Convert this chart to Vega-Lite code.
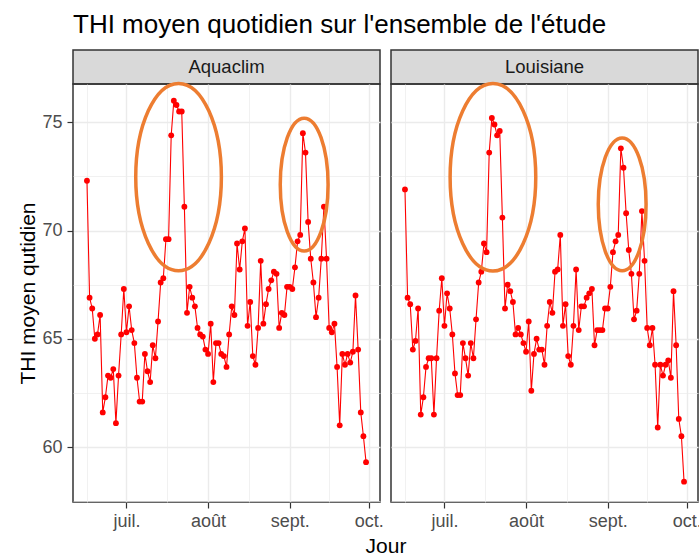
{
  "$schema": "https://vega.github.io/schema/vega-lite/v6.json",
  "background": "white",
  "padding": {"left": 17, "top": 12, "right": 0, "bottom": 0},
  "title": {"text": "THI moyen quotidien sur l'ensemble de l'étude", "anchor": "start", "frame": "group", "fontSize": 26, "fontWeight": "normal", "color": "#000000", "font": "Liberation Sans", "offset": 11, "dx": 0},
  "config": {"font": "Liberation Sans", "view": {"stroke": "#333333", "strokeWidth": 1.5}},
  "datasets": {
    "thi": [
{"site":"Aquaclim","date":"2019-06-16","thi":72.3},{"site":"Aquaclim","date":"2019-06-17","thi":66.9},{"site":"Aquaclim","date":"2019-06-18","thi":66.4},{"site":"Aquaclim","date":"2019-06-19","thi":65.0},{"site":"Aquaclim","date":"2019-06-20","thi":65.2},{"site":"Aquaclim","date":"2019-06-21","thi":66.1},{"site":"Aquaclim","date":"2019-06-22","thi":61.6},{"site":"Aquaclim","date":"2019-06-23","thi":62.3},{"site":"Aquaclim","date":"2019-06-24","thi":63.3},{"site":"Aquaclim","date":"2019-06-25","thi":63.2},{"site":"Aquaclim","date":"2019-06-26","thi":63.6},{"site":"Aquaclim","date":"2019-06-27","thi":61.1},{"site":"Aquaclim","date":"2019-06-28","thi":63.3},{"site":"Aquaclim","date":"2019-06-29","thi":65.2},{"site":"Aquaclim","date":"2019-06-30","thi":67.3},
{"site":"Aquaclim","date":"2019-07-01","thi":65.3},{"site":"Aquaclim","date":"2019-07-02","thi":66.5},{"site":"Aquaclim","date":"2019-07-03","thi":65.4},{"site":"Aquaclim","date":"2019-07-04","thi":64.8},{"site":"Aquaclim","date":"2019-07-05","thi":63.2},{"site":"Aquaclim","date":"2019-07-06","thi":62.1},{"site":"Aquaclim","date":"2019-07-07","thi":62.1},{"site":"Aquaclim","date":"2019-07-08","thi":64.3},{"site":"Aquaclim","date":"2019-07-09","thi":63.5},{"site":"Aquaclim","date":"2019-07-10","thi":63.0},{"site":"Aquaclim","date":"2019-07-11","thi":64.7},{"site":"Aquaclim","date":"2019-07-12","thi":64.1},{"site":"Aquaclim","date":"2019-07-13","thi":65.8},{"site":"Aquaclim","date":"2019-07-14","thi":67.6},{"site":"Aquaclim","date":"2019-07-15","thi":67.8},{"site":"Aquaclim","date":"2019-07-16","thi":69.6},{"site":"Aquaclim","date":"2019-07-17","thi":69.6},{"site":"Aquaclim","date":"2019-07-18","thi":74.4},{"site":"Aquaclim","date":"2019-07-19","thi":76.0},{"site":"Aquaclim","date":"2019-07-20","thi":75.8},{"site":"Aquaclim","date":"2019-07-21","thi":75.5},{"site":"Aquaclim","date":"2019-07-22","thi":75.5},{"site":"Aquaclim","date":"2019-07-23","thi":71.1},{"site":"Aquaclim","date":"2019-07-24","thi":66.2},{"site":"Aquaclim","date":"2019-07-25","thi":67.4},{"site":"Aquaclim","date":"2019-07-26","thi":66.9},{"site":"Aquaclim","date":"2019-07-27","thi":66.5},{"site":"Aquaclim","date":"2019-07-28","thi":65.5},{"site":"Aquaclim","date":"2019-07-29","thi":65.2},{"site":"Aquaclim","date":"2019-07-30","thi":65.1},{"site":"Aquaclim","date":"2019-07-31","thi":64.5},
{"site":"Aquaclim","date":"2019-08-01","thi":64.3},{"site":"Aquaclim","date":"2019-08-02","thi":65.7},{"site":"Aquaclim","date":"2019-08-03","thi":63.0},{"site":"Aquaclim","date":"2019-08-04","thi":64.8},{"site":"Aquaclim","date":"2019-08-05","thi":64.8},{"site":"Aquaclim","date":"2019-08-06","thi":64.3},{"site":"Aquaclim","date":"2019-08-07","thi":64.2},{"site":"Aquaclim","date":"2019-08-08","thi":63.7},{"site":"Aquaclim","date":"2019-08-09","thi":65.2},{"site":"Aquaclim","date":"2019-08-10","thi":66.5},{"site":"Aquaclim","date":"2019-08-11","thi":66.1},{"site":"Aquaclim","date":"2019-08-12","thi":69.4},{"site":"Aquaclim","date":"2019-08-13","thi":68.2},{"site":"Aquaclim","date":"2019-08-14","thi":69.5},{"site":"Aquaclim","date":"2019-08-15","thi":70.1},{"site":"Aquaclim","date":"2019-08-16","thi":65.6},{"site":"Aquaclim","date":"2019-08-17","thi":66.7},{"site":"Aquaclim","date":"2019-08-18","thi":64.2},{"site":"Aquaclim","date":"2019-08-19","thi":63.8},{"site":"Aquaclim","date":"2019-08-20","thi":65.5},{"site":"Aquaclim","date":"2019-08-21","thi":68.6},{"site":"Aquaclim","date":"2019-08-22","thi":65.7},{"site":"Aquaclim","date":"2019-08-23","thi":66.6},{"site":"Aquaclim","date":"2019-08-24","thi":67.3},{"site":"Aquaclim","date":"2019-08-25","thi":67.7},{"site":"Aquaclim","date":"2019-08-26","thi":68.1},{"site":"Aquaclim","date":"2019-08-27","thi":68.0},{"site":"Aquaclim","date":"2019-08-28","thi":65.5},{"site":"Aquaclim","date":"2019-08-29","thi":66.2},{"site":"Aquaclim","date":"2019-08-30","thi":66.1},{"site":"Aquaclim","date":"2019-08-31","thi":67.4},
{"site":"Aquaclim","date":"2019-09-01","thi":67.4},{"site":"Aquaclim","date":"2019-09-02","thi":67.3},{"site":"Aquaclim","date":"2019-09-03","thi":68.3},{"site":"Aquaclim","date":"2019-09-04","thi":69.5},{"site":"Aquaclim","date":"2019-09-05","thi":69.8},{"site":"Aquaclim","date":"2019-09-06","thi":74.5},{"site":"Aquaclim","date":"2019-09-07","thi":73.6},{"site":"Aquaclim","date":"2019-09-08","thi":70.4},{"site":"Aquaclim","date":"2019-09-09","thi":68.7},{"site":"Aquaclim","date":"2019-09-10","thi":67.6},{"site":"Aquaclim","date":"2019-09-11","thi":66.0},{"site":"Aquaclim","date":"2019-09-12","thi":66.9},{"site":"Aquaclim","date":"2019-09-13","thi":68.7},{"site":"Aquaclim","date":"2019-09-14","thi":71.1},{"site":"Aquaclim","date":"2019-09-15","thi":68.7},{"site":"Aquaclim","date":"2019-09-16","thi":65.5},{"site":"Aquaclim","date":"2019-09-17","thi":65.3},{"site":"Aquaclim","date":"2019-09-18","thi":65.7},{"site":"Aquaclim","date":"2019-09-19","thi":63.7},{"site":"Aquaclim","date":"2019-09-20","thi":61.0},{"site":"Aquaclim","date":"2019-09-21","thi":64.3},{"site":"Aquaclim","date":"2019-09-22","thi":63.8},{"site":"Aquaclim","date":"2019-09-23","thi":64.3},{"site":"Aquaclim","date":"2019-09-24","thi":63.9},{"site":"Aquaclim","date":"2019-09-25","thi":64.4},{"site":"Aquaclim","date":"2019-09-26","thi":67.0},{"site":"Aquaclim","date":"2019-09-27","thi":64.5},{"site":"Aquaclim","date":"2019-09-28","thi":61.6},{"site":"Aquaclim","date":"2019-09-29","thi":60.5},{"site":"Aquaclim","date":"2019-09-30","thi":59.3},
{"site":"Louisiane","date":"2019-06-16","thi":71.9},{"site":"Louisiane","date":"2019-06-17","thi":66.9},{"site":"Louisiane","date":"2019-06-18","thi":66.6},{"site":"Louisiane","date":"2019-06-19","thi":64.5},{"site":"Louisiane","date":"2019-06-20","thi":64.9},{"site":"Louisiane","date":"2019-06-21","thi":66.4},{"site":"Louisiane","date":"2019-06-22","thi":61.5},{"site":"Louisiane","date":"2019-06-23","thi":62.3},{"site":"Louisiane","date":"2019-06-24","thi":63.7},{"site":"Louisiane","date":"2019-06-25","thi":64.1},{"site":"Louisiane","date":"2019-06-26","thi":64.1},{"site":"Louisiane","date":"2019-06-27","thi":61.5},{"site":"Louisiane","date":"2019-06-28","thi":64.1},{"site":"Louisiane","date":"2019-06-29","thi":66.3},{"site":"Louisiane","date":"2019-06-30","thi":67.8},
{"site":"Louisiane","date":"2019-07-01","thi":65.6},{"site":"Louisiane","date":"2019-07-02","thi":67.1},{"site":"Louisiane","date":"2019-07-03","thi":66.4},{"site":"Louisiane","date":"2019-07-04","thi":65.2},{"site":"Louisiane","date":"2019-07-05","thi":63.4},{"site":"Louisiane","date":"2019-07-06","thi":62.4},{"site":"Louisiane","date":"2019-07-07","thi":62.4},{"site":"Louisiane","date":"2019-07-08","thi":64.8},{"site":"Louisiane","date":"2019-07-09","thi":64.1},{"site":"Louisiane","date":"2019-07-10","thi":63.3},{"site":"Louisiane","date":"2019-07-11","thi":64.8},{"site":"Louisiane","date":"2019-07-12","thi":64.1},{"site":"Louisiane","date":"2019-07-13","thi":65.9},{"site":"Louisiane","date":"2019-07-14","thi":67.6},{"site":"Louisiane","date":"2019-07-15","thi":68.1},{"site":"Louisiane","date":"2019-07-16","thi":69.4},{"site":"Louisiane","date":"2019-07-17","thi":69.0},{"site":"Louisiane","date":"2019-07-18","thi":73.6},{"site":"Louisiane","date":"2019-07-19","thi":75.2},{"site":"Louisiane","date":"2019-07-20","thi":74.9},{"site":"Louisiane","date":"2019-07-21","thi":74.4},{"site":"Louisiane","date":"2019-07-22","thi":74.6},{"site":"Louisiane","date":"2019-07-23","thi":70.6},{"site":"Louisiane","date":"2019-07-24","thi":66.4},{"site":"Louisiane","date":"2019-07-25","thi":67.5},{"site":"Louisiane","date":"2019-07-26","thi":67.2},{"site":"Louisiane","date":"2019-07-27","thi":66.7},{"site":"Louisiane","date":"2019-07-28","thi":65.2},{"site":"Louisiane","date":"2019-07-29","thi":65.5},{"site":"Louisiane","date":"2019-07-30","thi":65.2},{"site":"Louisiane","date":"2019-07-31","thi":64.8},
{"site":"Louisiane","date":"2019-08-01","thi":64.4},{"site":"Louisiane","date":"2019-08-02","thi":65.8},{"site":"Louisiane","date":"2019-08-03","thi":62.6},{"site":"Louisiane","date":"2019-08-04","thi":64.3},{"site":"Louisiane","date":"2019-08-05","thi":65.0},{"site":"Louisiane","date":"2019-08-06","thi":64.5},{"site":"Louisiane","date":"2019-08-07","thi":64.5},{"site":"Louisiane","date":"2019-08-08","thi":63.8},{"site":"Louisiane","date":"2019-08-09","thi":65.6},{"site":"Louisiane","date":"2019-08-10","thi":66.7},{"site":"Louisiane","date":"2019-08-11","thi":66.2},{"site":"Louisiane","date":"2019-08-12","thi":68.1},{"site":"Louisiane","date":"2019-08-13","thi":68.2},{"site":"Louisiane","date":"2019-08-14","thi":69.8},{"site":"Louisiane","date":"2019-08-15","thi":65.6},{"site":"Louisiane","date":"2019-08-16","thi":66.6},{"site":"Louisiane","date":"2019-08-17","thi":64.2},{"site":"Louisiane","date":"2019-08-18","thi":63.8},{"site":"Louisiane","date":"2019-08-19","thi":65.6},{"site":"Louisiane","date":"2019-08-20","thi":68.2},{"site":"Louisiane","date":"2019-08-21","thi":65.4},{"site":"Louisiane","date":"2019-08-22","thi":66.5},{"site":"Louisiane","date":"2019-08-23","thi":66.5},{"site":"Louisiane","date":"2019-08-24","thi":66.9},{"site":"Louisiane","date":"2019-08-25","thi":67.1},{"site":"Louisiane","date":"2019-08-26","thi":67.3},{"site":"Louisiane","date":"2019-08-27","thi":64.7},{"site":"Louisiane","date":"2019-08-28","thi":65.4},{"site":"Louisiane","date":"2019-08-29","thi":65.4},{"site":"Louisiane","date":"2019-08-30","thi":65.4},{"site":"Louisiane","date":"2019-08-31","thi":66.4},
{"site":"Louisiane","date":"2019-09-01","thi":66.4},{"site":"Louisiane","date":"2019-09-02","thi":67.4},{"site":"Louisiane","date":"2019-09-03","thi":69.0},{"site":"Louisiane","date":"2019-09-04","thi":69.5},{"site":"Louisiane","date":"2019-09-05","thi":69.8},{"site":"Louisiane","date":"2019-09-06","thi":73.8},{"site":"Louisiane","date":"2019-09-07","thi":72.9},{"site":"Louisiane","date":"2019-09-08","thi":70.8},{"site":"Louisiane","date":"2019-09-09","thi":69.1},{"site":"Louisiane","date":"2019-09-10","thi":68.0},{"site":"Louisiane","date":"2019-09-11","thi":65.9},{"site":"Louisiane","date":"2019-09-12","thi":66.3},{"site":"Louisiane","date":"2019-09-13","thi":68.0},{"site":"Louisiane","date":"2019-09-14","thi":70.9},{"site":"Louisiane","date":"2019-09-15","thi":68.6},{"site":"Louisiane","date":"2019-09-16","thi":65.5},{"site":"Louisiane","date":"2019-09-17","thi":64.7},{"site":"Louisiane","date":"2019-09-18","thi":65.5},{"site":"Louisiane","date":"2019-09-19","thi":63.8},{"site":"Louisiane","date":"2019-09-20","thi":60.9},{"site":"Louisiane","date":"2019-09-21","thi":63.8},{"site":"Louisiane","date":"2019-09-22","thi":63.3},{"site":"Louisiane","date":"2019-09-23","thi":63.8},{"site":"Louisiane","date":"2019-09-24","thi":64.0},{"site":"Louisiane","date":"2019-09-25","thi":63.2},{"site":"Louisiane","date":"2019-09-26","thi":67.2},{"site":"Louisiane","date":"2019-09-27","thi":64.7},{"site":"Louisiane","date":"2019-09-28","thi":61.3},{"site":"Louisiane","date":"2019-09-29","thi":60.5},{"site":"Louisiane","date":"2019-09-30","thi":58.4}
    ],
    "ell": [
      {"site": "Aquaclim", "kind": "big", "date": "2019-07-20T19:00:00Z", "thi": 72.47},
      {"site": "Aquaclim", "kind": "small", "date": "2019-09-06T12:00:00Z", "thi": 72.12},
      {"site": "Louisiane", "kind": "big", "date": "2019-07-19T10:00:00Z", "thi": 72.46},
      {"site": "Louisiane", "kind": "small", "date": "2019-09-06T12:00:00Z", "thi": 71.21}
    ]
  },
  "align": "none",
  "spacing": -17,
  "hconcat": [
    {
      "bounds": "flush",
      "spacing": 0,
      "vconcat": [
        {
          "width": 307, "height": 34,
          "data": {"values": [{"lab": "Aquaclim"}]},
          "mark": {"type": "text", "fontSize": 18.5, "color": "#1A1A1A"},
          "encoding": {"text": {"field": "lab"}},
          "view": {"fill": "#D9D9D9", "stroke": "#333333", "strokeWidth": 1.5}
        },
        {
          "width": 307, "height": 418,
          "encoding": {
            "x": {"field": "date", "type": "temporal",
              "scale": {"type": "utc", "domain": [{"year": 2019, "month": 6, "date": 10, "hours": 16, "minutes": 48, "utc": true}, {"year": 2019, "month": 10, "date": 5, "hours": 7, "minutes": 12, "utc": true}]},
              "axis": {
                "values": [{"year": 2019, "month": 6, "date": 16, "utc": true}, {"year": 2019, "month": 7, "date": 1, "utc": true}, {"year": 2019, "month": 7, "date": 16, "hours": 12, "utc": true}, {"year": 2019, "month": 8, "date": 1, "utc": true}, {"year": 2019, "month": 8, "date": 16, "hours": 12, "utc": true}, {"year": 2019, "month": 9, "date": 1, "utc": true}, {"year": 2019, "month": 9, "date": 16, "utc": true}, {"year": 2019, "month": 10, "date": 1, "utc": true}],
                "labelExpr": "utcdate(datum.value) == 1 ? ['janv.','févr.','mars','avr.','mai','juin','juil.','août','sept.','oct.','nov.','déc.'][utcmonth(datum.value)] : ''",
                "labelOverlap": false, "labelFlush": false,
                "labelFontSize": 18, "labelColor": "#4D4D4D", "labelPadding": 4,
                "tickSize": 6, "tickColor": "#333333", "tickWidth": 1.2,
                "tickOpacity": {"condition": {"test": "utcdate(datum.value) == 1", "value": 1}, "value": 0},
                "grid": true, "gridColor": "#EBEBEB",
                "gridWidth": {"condition": {"test": "utcdate(datum.value) == 1", "value": 1.4}, "value": 0.7},
                "domain": false,
                "title": "Jour", "titleX": 312.5, "titleAlign": "center", "titleFontSize": 21, "titleFontWeight": "normal", "titleColor": "#000000", "titlePadding": 5
              }
            },
            "y": {"field": "thi", "type": "quantitative",
              "scale": {"domain": [57.46, 76.77], "nice": false, "zero": false},
              "axis": {
                "values": [57.5, 60, 62.5, 65, 67.5, 70, 72.5, 75],
                "labelExpr": "datum.value % 5 == 0 ? format(datum.value, 'd') : ''",
                "labelOverlap": false, "labelFlush": false,
                "labelFontSize": 18, "labelColor": "#4D4D4D", "labelPadding": 5,
                "tickSize": 6, "tickColor": "#333333", "tickWidth": 1.2,
                "tickOpacity": {"condition": {"test": "datum.value % 5 == 0", "value": 1}, "value": 0},
                "grid": true, "gridColor": "#EBEBEB",
                "gridWidth": {"condition": {"test": "datum.value % 5 == 0", "value": 1.4}, "value": 0.7},
                "domain": false,
                "title": "THI moyen qutidien", "titleFontSize": 21, "titleFontWeight": "normal", "titleColor": "#000000", "titlePadding": 3
              }
            }
          },
          "layer": [
            {"data": {"name": "thi"}, "transform": [{"filter": "datum.site === 'Aquaclim'"}], "mark": {"type": "line", "color": "#FF0000", "strokeWidth": 1.1}},
            {"data": {"name": "thi"}, "transform": [{"filter": "datum.site === 'Aquaclim'"}], "mark": {"type": "point", "filled": true, "color": "#FF0000", "size": 34, "opacity": 1}},
            {"data": {"name": "ell"}, "transform": [{"filter": "datum.site === 'Aquaclim' && datum.kind === 'big'"}], "mark": {"type": "point", "shape": "M0,-1C0.252,-1,0.457,-0.552,0.457,0C0.457,0.552,0.252,1,0,1C-0.252,1,-0.457,0.552,-0.457,0C-0.457,-0.552,-0.252,-1,0,-1Z", "size": 35120, "filled": false, "color": "#ED7D31", "strokeWidth": 3.5, "opacity": 1}},
            {"data": {"name": "ell"}, "transform": [{"filter": "datum.site === 'Aquaclim' && datum.kind === 'small'"}], "mark": {"type": "point", "shape": "M0,-1C0.199,-1,0.36,-0.552,0.36,0C0.36,0.552,0.199,1,0,1C-0.199,1,-0.36,0.552,-0.36,0C-0.36,-0.552,-0.199,-1,0,-1Z", "size": 17636, "filled": false, "color": "#ED7D31", "strokeWidth": 3.5, "opacity": 1}}
          ]
        }
      ]
    },
    {
      "bounds": "flush",
      "spacing": 0,
      "vconcat": [
        {
          "width": 307, "height": 34,
          "data": {"values": [{"lab": "Louisiane"}]},
          "mark": {"type": "text", "fontSize": 18.5, "color": "#1A1A1A"},
          "encoding": {"text": {"field": "lab"}},
          "view": {"fill": "#D9D9D9", "stroke": "#333333", "strokeWidth": 1.5}
        },
        {
          "width": 307, "height": 418,
          "encoding": {
            "x": {"field": "date", "type": "temporal",
              "scale": {"type": "utc", "domain": [{"year": 2019, "month": 6, "date": 10, "hours": 16, "minutes": 48, "utc": true}, {"year": 2019, "month": 10, "date": 5, "hours": 7, "minutes": 12, "utc": true}]},
              "axis": {
                "values": [{"year": 2019, "month": 6, "date": 16, "utc": true}, {"year": 2019, "month": 7, "date": 1, "utc": true}, {"year": 2019, "month": 7, "date": 16, "hours": 12, "utc": true}, {"year": 2019, "month": 8, "date": 1, "utc": true}, {"year": 2019, "month": 8, "date": 16, "hours": 12, "utc": true}, {"year": 2019, "month": 9, "date": 1, "utc": true}, {"year": 2019, "month": 9, "date": 16, "utc": true}, {"year": 2019, "month": 10, "date": 1, "utc": true}],
                "labelExpr": "utcdate(datum.value) == 1 ? ['janv.','févr.','mars','avr.','mai','juin','juil.','août','sept.','oct.','nov.','déc.'][utcmonth(datum.value)] : ''",
                "labelOverlap": false, "labelFlush": false,
                "labelFontSize": 18, "labelColor": "#4D4D4D", "labelPadding": 4,
                "tickSize": 6, "tickColor": "#333333", "tickWidth": 1.2,
                "tickOpacity": {"condition": {"test": "utcdate(datum.value) == 1", "value": 1}, "value": 0},
                "grid": true, "gridColor": "#EBEBEB",
                "gridWidth": {"condition": {"test": "utcdate(datum.value) == 1", "value": 1.4}, "value": 0.7},
                "domain": false,
                "title": null
              }
            },
            "y": {"field": "thi", "type": "quantitative",
              "scale": {"domain": [57.46, 76.77], "nice": false, "zero": false},
              "axis": {
                "values": [57.5, 60, 62.5, 65, 67.5, 70, 72.5, 75],
                "labels": false, "ticks": false, "domain": false, "title": null,
                "grid": true, "gridColor": "#EBEBEB",
                "gridWidth": {"condition": {"test": "datum.value % 5 == 0", "value": 1.4}, "value": 0.7}
              }
            }
          },
          "layer": [
            {"data": {"name": "thi"}, "transform": [{"filter": "datum.site === 'Louisiane'"}], "mark": {"type": "line", "color": "#FF0000", "strokeWidth": 1.1}},
            {"data": {"name": "thi"}, "transform": [{"filter": "datum.site === 'Louisiane'"}], "mark": {"type": "point", "filled": true, "color": "#FF0000", "size": 34, "opacity": 1}},
            {"data": {"name": "ell"}, "transform": [{"filter": "datum.site === 'Louisiane' && datum.kind === 'big'"}], "mark": {"type": "point", "shape": "M0,-1C0.252,-1,0.457,-0.552,0.457,0C0.457,0.552,0.252,1,0,1C-0.252,1,-0.457,0.552,-0.457,0C-0.457,-0.552,-0.252,-1,0,-1Z", "size": 35120, "filled": false, "color": "#ED7D31", "strokeWidth": 3.5, "opacity": 1}},
            {"data": {"name": "ell"}, "transform": [{"filter": "datum.site === 'Louisiane' && datum.kind === 'small'"}], "mark": {"type": "point", "shape": "M0,-1C0.199,-1,0.36,-0.552,0.36,0C0.36,0.552,0.199,1,0,1C-0.199,1,-0.36,0.552,-0.36,0C-0.36,-0.552,-0.199,-1,0,-1Z", "size": 17636, "filled": false, "color": "#ED7D31", "strokeWidth": 3.5, "opacity": 1}}
          ]
        }
      ]
    }
  ]
}
